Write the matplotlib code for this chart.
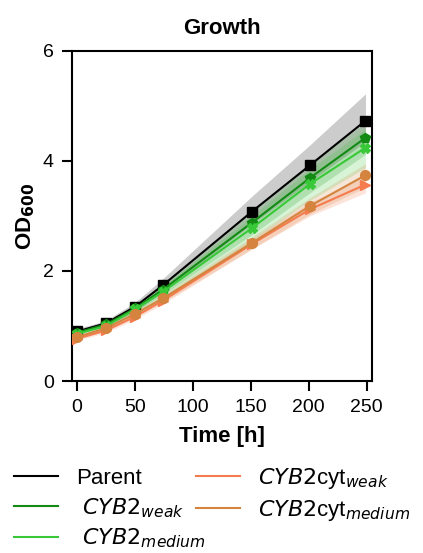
import matplotlib
matplotlib.use("Agg")
import matplotlib.pyplot as plt
import numpy as np

plt.rcParams['font.family'] = ['Liberation Sans', 'DejaVu Sans']

time_h = [0, 25, 50, 74, 151, 201, 249]

labels = ["Parent", r" $\it{CYB2}_{weak}$", r" $\it{CYB2}_{medium}$",
          r"$\it{CYB2}$cyt$_{weak}$", r"$\it{CYB2}$cyt$_{medium}$"]

parent_mean = [0.90, 1.05, 1.35, 1.74, 3.08, 3.92, 4.73]
parent_lo = [0.86, 1.00, 1.27, 1.62, 2.85, 3.62, 4.35]
parent_hi = [0.95, 1.10, 1.43, 1.86, 3.36, 4.29, 5.22]

weak_mean = [0.88, 1.03, 1.32, 1.66, 2.88, 3.69, 4.42]
weak_lo = [0.85, 0.99, 1.26, 1.57, 2.66, 3.42, 4.12]
weak_hi = [0.91, 1.07, 1.38, 1.75, 3.08, 3.95, 4.70]

med_mean = [0.86, 1.00, 1.30, 1.62, 2.78, 3.58, 4.24]
med_lo = [0.82, 0.95, 1.22, 1.52, 2.55, 3.28, 3.88]
med_hi = [0.90, 1.05, 1.37, 1.72, 3.00, 3.85, 4.58]

cytw_mean = [0.77, 0.92, 1.17, 1.46, 2.49, 3.12, 3.57]
cytw_lo = [0.74, 0.88, 1.12, 1.40, 2.40, 3.00, 3.42]
cytw_hi = [0.80, 0.96, 1.22, 1.52, 2.58, 3.25, 3.72]

cytm_mean = [0.80, 0.96, 1.22, 1.50, 2.51, 3.18, 3.74]
cytm_lo = [0.76, 0.91, 1.16, 1.43, 2.40, 3.03, 3.52]
cytm_hi = [0.84, 1.01, 1.28, 1.57, 2.62, 3.33, 3.95]

series = [
    (parent_mean, parent_lo, parent_hi, "black", "s"),
    (weak_mean, weak_lo, weak_hi, "#138a13", "p"),
    (med_mean, med_lo, med_hi, "#38c838", "X"),
    (cytw_mean, cytw_lo, cytw_hi, "#f57c4e", ">"),
    (cytm_mean, cytm_lo, cytm_hi, "#d4843e", "o"),
]

fig = plt.figure(figsize=(4.23, 5.53), dpi=100)
ax = fig.add_axes([0.170, 0.311, 0.709, 0.597])

handles = []
for (m, lo, hi, c, mk), lab in zip(series, labels):
    ax.fill_between(time_h, lo, hi, color=c, alpha=0.2, lw=0)
    ax.plot(time_h, m, color=c, lw=1.5, marker=mk, ms=7, zorder=3)
    h, = ax.plot([], [], color=c, lw=1.5, label=lab)
    handles.append(h)

ax.set_xlim(-4.5, 254.5)
ax.set_ylim(0, 6)
ax.set_xticks([0, 50, 100, 150, 200, 250])
ax.set_yticks([0, 2, 4, 6])
ax.tick_params(labelsize=14, width=1.5, length=7)
ax.tick_params(axis="x", pad=6)
ax.tick_params(axis="y", pad=6)
for s in ax.spines.values():
    s.set_linewidth(1.5)
ax.set_title("Growth", fontsize=16, fontweight="bold", pad=12)
ax.set_xlabel("Time [h]", fontsize=16, fontweight="bold", labelpad=7)
ax.set_ylabel(r"OD$_{\mathbf{600}}$", fontsize=16, fontweight="bold", labelpad=4)

fig.legend(handles=handles, loc="upper left", bbox_to_anchor=(0.033, 0.158),
           ncol=2, frameon=False, fontsize=16, handlelength=2.0,
           handletextpad=0.8, columnspacing=-0.45, labelspacing=0.33,
           borderpad=0, borderaxespad=0)

fig.savefig("out.png", dpi=100)
